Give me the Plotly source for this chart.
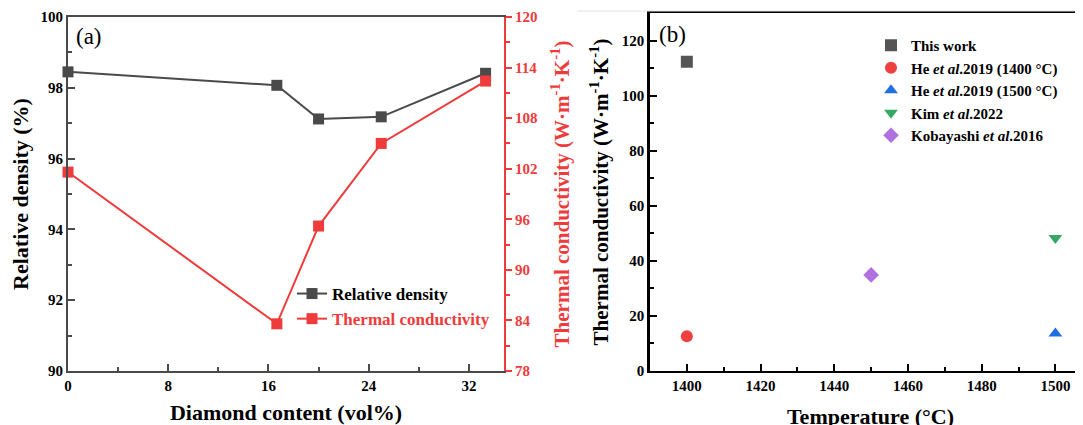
import plotly.graph_objects as go

# ---- data ----
diamond = [0, 16.67, 20, 25, 33.33]
rel_density = [98.45, 98.07, 97.12, 97.18, 98.41]
thermal_cond = [101.6, 83.6, 95.2, 105.0, 112.4]

cmp_names = ["This work", "He <i>et al</i>.2019 (1400 °C)", "He <i>et al</i>.2019 (1500 °C)",
             "Kim <i>et al</i>.2022", "Kobayashi <i>et al</i>.2016"]
cmp_temp = [1400, 1400, 1500, 1500, 1450]
cmp_tc = [112.3, 12.6, 13.6, 48.3, 34.9]
cmp_colors = ["#555555", "#ef4040", "#1f6fe0", "#36a866", "#b070e0"]
cmp_symbols = ["square", "circle", "triangle-up", "triangle-down", "diamond"]

GREY = "#4a4a4a"
RED = "#ee3b3b"
FONT = "Liberation Serif"
W, H = 1083, 425
OX, OY = 8, 8  # page body margin offset


def px(x):
    return (x - OX) / W


def py(y):
    return 1 - (y - OY) / H


fig = go.Figure()

fig.add_trace(go.Scatter(
    x=diamond, y=rel_density, mode="lines+markers", name="Relative density",
    line=dict(color=GREY, width=2), marker=dict(symbol="square", size=11, color=GREY),
    xaxis="x", yaxis="y", cliponaxis=False, legend="legend"))
fig.add_trace(go.Scatter(
    x=diamond, y=thermal_cond, mode="lines+markers",
    name='<span style="color:%s">Thermal conductivity</span>' % RED,
    line=dict(color=RED, width=2), marker=dict(symbol="square", size=11, color=RED),
    xaxis="x", yaxis="y2", cliponaxis=False, legend="legend"))

for n, t, v, c, s in zip(cmp_names, cmp_temp, cmp_tc, cmp_colors, cmp_symbols):
    fig.add_trace(go.Scatter(
        x=[t], y=[v], mode="markers", name=n,
        marker=dict(symbol=s, size=12, color=c),
        xaxis="x3", yaxis="y3", cliponaxis=False, legend="legend2"))

tickfont = dict(family=FONT, size=15, color="black", weight="bold")
titlefont = dict(family=FONT, size=22, color="black", weight="bold")
tcfont = dict(family=FONT, size=21, color="black", weight="bold")

ydom1 = [py(371), py(17)]
ydom2 = [py(371), py(13)]

fig.update_layout(
    width=W, height=H,
    margin=dict(l=0, r=0, t=0, b=0, pad=0, autoexpand=False),
    paper_bgcolor="white", plot_bgcolor="white",
    font=dict(family=FONT),
    xaxis=dict(domain=[px(68), px(504)], range=[0, 34.8], anchor="y", automargin=False,
               tickvals=[0, 8, 16, 24, 32], ticks="inside", ticklen=7, tickwidth=2,
               tickcolor=GREY,
               minor=dict(tickvals=[4, 12, 20, 28], ticks="inside", ticklen=4, tickwidth=2, tickcolor=GREY),
               showline=True, linecolor=GREY, linewidth=2, mirror=True,
               showgrid=False, zeroline=False, tickfont=tickfont,
               title=dict(text="Diamond content (vol%)", font=titlefont, standoff=12)),
    yaxis=dict(domain=ydom1, range=[90, 100], anchor="x", automargin=False,
               tickvals=[90, 92, 94, 96, 98, 100], ticks="inside", ticklen=7, tickwidth=2,
               tickcolor=GREY,
               minor=dict(tickvals=[91, 93, 95, 97, 99], ticks="inside", ticklen=4, tickwidth=2, tickcolor=GREY),
               showline=True, linecolor=GREY, linewidth=2,
               showgrid=False, zeroline=False, tickfont=tickfont,
               title=dict(text="Relative density (%)", font=titlefont, standoff=8)),
    yaxis2=dict(domain=ydom1, range=[78, 120], anchor="x", overlaying="y", side="right",
                automargin=False,
                tickvals=[78, 84, 90, 96, 102, 108, 114, 120], ticks="outside", ticklen=6, tickwidth=2,
                tickcolor=RED,
                minor=dict(tickvals=[81, 87, 93, 99, 105, 111, 117], ticks="outside", ticklen=4,
                           tickwidth=2, tickcolor=RED),
                showline=True, linecolor=RED, linewidth=2,
                showgrid=False, zeroline=False,
                tickfont=dict(family=FONT, size=15, color=RED, weight="bold"),
                title=dict(text="Thermal conductivity (W·m<sup>-1</sup>·K<sup>-1</sup>)",
                           font=dict(family=FONT, size=21, color=RED, weight="bold"), standoff=18)),
    xaxis3=dict(domain=[px(650), 1.0], range=[1390, 1507.5 + 8 / 3.7], anchor="y3", automargin=False,
                tickvals=[1400, 1420, 1440, 1460, 1480, 1500], ticks="inside", ticklen=7, tickwidth=2,
                tickcolor="black",
                minor=dict(tickvals=[1410, 1430, 1450, 1470, 1490], ticks="inside", ticklen=4,
                           tickwidth=2, tickcolor="black"),
                showline=True, linecolor="black", linewidth=2, mirror=True,
                showgrid=False, zeroline=False, tickfont=tickfont,
                title=dict(text="Temperature (°C)", font=titlefont, standoff=16)),
    yaxis3=dict(domain=ydom2, range=[0, 130], anchor="x3", automargin=False,
                tickvals=[0, 20, 40, 60, 80, 100, 120], ticks="inside", ticklen=7, tickwidth=2,
                tickcolor="black",
                minor=dict(tickvals=[10, 30, 50, 70, 90, 110], ticks="inside", ticklen=4,
                           tickwidth=2, tickcolor="black"),
                showline=True, linecolor="black", linewidth=2.5,
                showgrid=False, zeroline=False, tickfont=tickfont,
                title=dict(text="Thermal conductivity (W·m<sup>-1</sup>·K<sup>-1</sup>)",
                           font=tcfont, standoff=8)),
    legend=dict(x=px(292), y=py(276), xanchor="left", yanchor="top",
                bgcolor="rgba(0,0,0,0)", font=dict(family=FONT, size=17, color="black", weight="bold"),
                tracegroupgap=0, itemwidth=30),
    legend2=dict(x=px(871), y=py(29), xanchor="left", yanchor="top",
                 bgcolor="rgba(0,0,0,0)", font=dict(family=FONT, size=15, color="black", weight="bold"),
                 tracegroupgap=0, itemwidth=30),
    shapes=[
        dict(type="line", xref="paper", yref="paper", x0=px(577), x1=1.0, y0=py(11), y1=py(11),
             line=dict(color="#e2e2e2", width=1)),
    ],
    annotations=[
        dict(text="(a)", x=px(74), y=py(36), xref="paper", yref="paper", xanchor="left",
             yanchor="middle", showarrow=False, font=dict(family=FONT, size=23, color="black")),
        dict(text="(b)", x=px(657), y=py(35), xref="paper", yref="paper", xanchor="left",
             yanchor="middle", showarrow=False, font=dict(family=FONT, size=23, color="black")),
    ],
)

fig.write_html("out.html")
